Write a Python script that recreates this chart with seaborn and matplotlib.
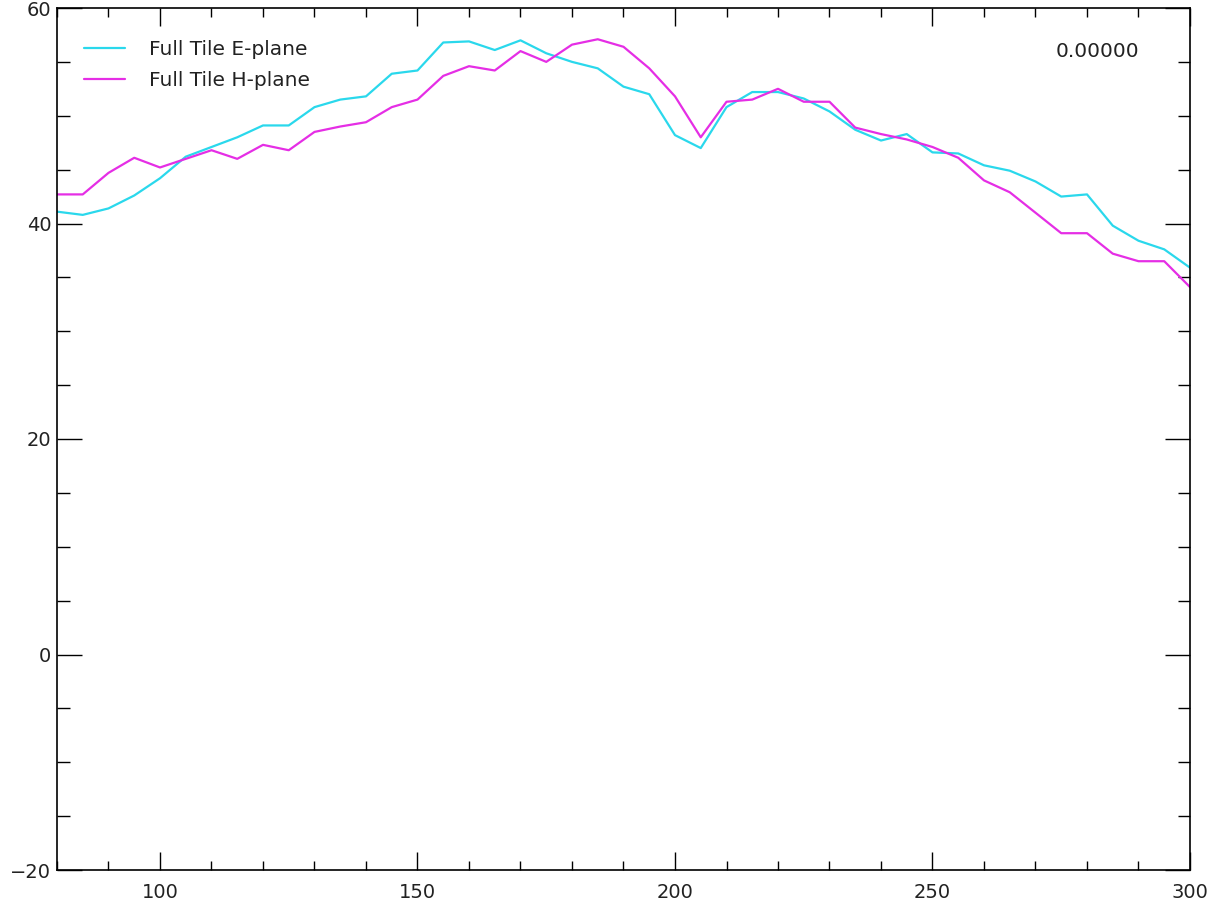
import numpy as np
import pandas as pd
import matplotlib
matplotlib.use("Agg")
import matplotlib.pyplot as plt
import seaborn as sns
from matplotlib.ticker import MultipleLocator

x_vals = list(range(80, 305, 5))
e_plane = [41.1, 40.8, 41.4, 42.6, 44.2, 46.2, 47.1, 48.0, 49.1, 49.1,
           50.8, 51.5, 51.8, 53.9, 54.2, 56.8, 56.9, 56.1, 57.0, 55.8,
           55.0, 54.4, 52.7, 52.0, 48.2, 47.0, 50.8, 52.2, 52.2, 51.6,
           50.4, 48.7, 47.7, 48.3, 46.6, 46.5, 45.4, 44.9, 43.9, 42.5,
           42.7, 39.8, 38.4, 37.6, 35.9]
h_plane = [42.7, 42.7, 44.7, 46.1, 45.2, 46.0, 46.8, 46.0, 47.3, 46.8,
           48.5, 49.0, 49.4, 50.8, 51.5, 53.7, 54.6, 54.2, 56.0, 55.0,
           56.6, 57.1, 56.4, 54.4, 51.8, 48.0, 51.3, 51.5, 52.5, 51.3,
           51.3, 48.9, 48.3, 47.8, 47.1, 46.1, 44.0, 42.9, 41.0, 39.1,
           39.1, 37.2, 36.5, 36.5, 34.1]
series_names = ["Full Tile E-plane", "Full Tile H-plane"]
series_colors = ["#2ad8ec", "#e52ee5"]
x_ticks = [100, 150, 200, 250, 300]
y_ticks = [-20, 0, 20, 40, 60]
annotation = "0.00000"

df = pd.DataFrame({
    "x": x_vals * 2,
    "y": e_plane + h_plane,
    "series": [series_names[0]] * len(x_vals) + [series_names[1]] * len(x_vals),
})

sns.set_style("white")
plt.rcParams["font.family"] = ["DejaVu Sans"]

fig = plt.figure(figsize=(12.25, 9.09), dpi=100)
ax = fig.add_axes([57 / 1225, 39 / 909, (1190 - 57) / 1225, (870 - 8) / 909])

sns.lineplot(data=df, x="x", y="y", hue="series", palette=series_colors,
             hue_order=series_names, linewidth=1.6, ax=ax, legend=True)

ax.set_xlim(80, 300)
ax.set_ylim(-20, 60)
ax.set_xticks(x_ticks)
ax.set_yticks(y_ticks)
ax.xaxis.set_minor_locator(MultipleLocator(10))
ax.yaxis.set_minor_locator(MultipleLocator(5))
ax.set_xlabel("")
ax.set_ylabel("")

ax.tick_params(axis="both", which="both", direction="in",
               top=True, right=True, bottom=True, left=True,
               colors="black", labelsize=14, width=1.0)
ax.tick_params(axis="x", which="major", length=13, pad=9)
ax.tick_params(axis="x", which="minor", length=6.5)
ax.tick_params(axis="y", which="major", length=18, pad=4)
ax.tick_params(axis="y", which="minor", length=9)
for lbl in ax.get_xticklabels() + ax.get_yticklabels():
    lbl.set_color("#222222")

for sp in ax.spines.values():
    sp.set_visible(True)
    sp.set_color("black")
    sp.set_linewidth(1.2)

leg = ax.legend(loc="upper left", frameon=False, fontsize=14.5,
                handlelength=2.0, handletextpad=1.2, borderaxespad=0.4,
                bbox_to_anchor=(0.01, 0.981), labelspacing=0.55)
for line in leg.get_lines():
    line.set_linewidth(1.6)
for t in leg.get_texts():
    t.set_color("#222222")

ax.text(0.955, 0.95, annotation, transform=ax.transAxes, ha="right", va="center",
        fontsize=14.5, color="#222222")

fig.savefig("out.png", dpi=100)
